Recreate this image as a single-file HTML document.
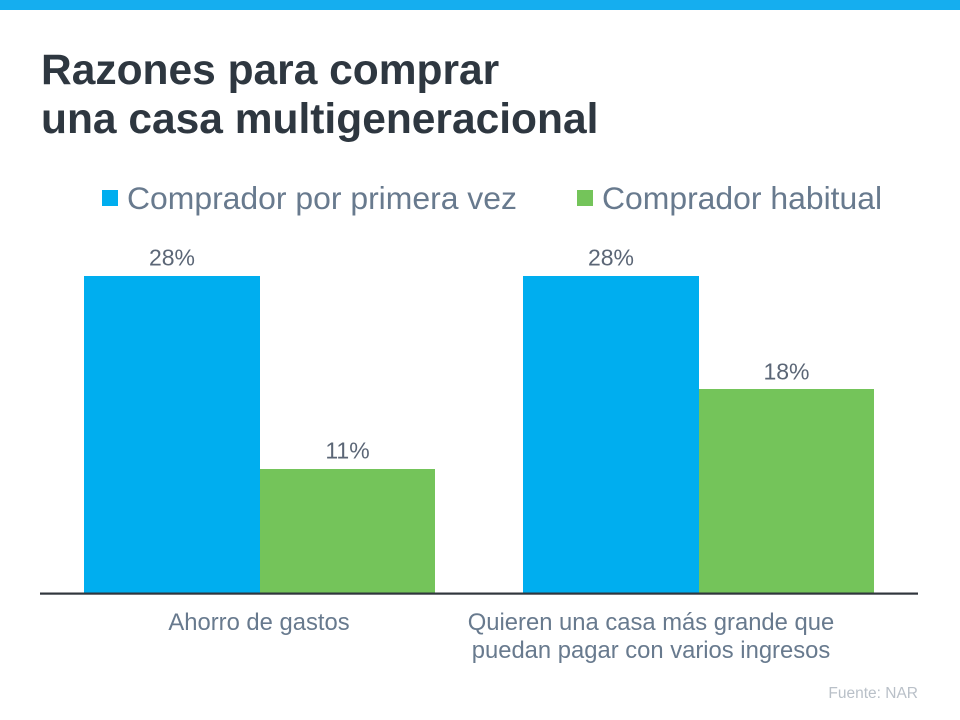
<!DOCTYPE html>
<html>
<head>
<meta charset="utf-8">
<style>
html,body{margin:0;padding:0;background:#fff;}
body{width:960px;height:720px;overflow:hidden;}
svg{display:block;}
text{font-family:"Liberation Sans", Arial, sans-serif;}
</style>
</head>
<body>
<svg width="960" height="720" viewBox="0 0 960 720" xmlns="http://www.w3.org/2000/svg">
  <rect x="0" y="0" width="960" height="720" fill="#ffffff"/>
  <rect x="0" y="0" width="960" height="10" fill="#15AEEF"/>

  <!-- Title -->
  <text x="41" y="84" font-size="42.5" font-weight="bold" fill="#2E3740">Razones para comprar</text>
  <text x="41" y="133" font-size="42.5" font-weight="bold" fill="#2E3740">una casa multigeneracional</text>

  <!-- Legend -->
  <rect x="102" y="190" width="16" height="16" fill="#00AEEF"/>
  <text x="127" y="209" font-size="31.9" fill="#687A8E">Comprador por primera vez</text>
  <rect x="577" y="190" width="16" height="16" fill="#74C45A"/>
  <text x="602" y="209" font-size="31.9" fill="#687A8E">Comprador habitual</text>

  <!-- Bars -->
  <rect x="84" y="276" width="176" height="317" fill="#00AEEF"/>
  <rect x="260" y="469" width="175" height="124" fill="#74C45A"/>
  <rect x="523" y="276" width="176" height="317" fill="#00AEEF"/>
  <rect x="699" y="389" width="175" height="204" fill="#74C45A"/>

  <!-- Axis -->
  <rect x="40" y="592.5" width="878" height="2.2" fill="#30363D"/>

  <!-- Data labels -->
  <g font-size="23" fill="#5B6676" text-anchor="middle">
    <text x="172" y="265.5">28%</text>
    <text x="347.5" y="458.5">11%</text>
    <text x="611" y="265.5">28%</text>
    <text x="786.5" y="379.5">18%</text>
  </g>

  <!-- Category labels -->
  <g font-size="23.8" fill="#687A8E" text-anchor="middle">
    <text x="259" y="630">Ahorro de gastos</text>
    <text x="651" y="630">Quieren una casa más grande que</text>
    <text x="651" y="658">puedan pagar con varios ingresos</text>
  </g>

  <!-- Source -->
  <text x="918" y="698" font-size="15.5" fill="#B9C0C8" text-anchor="end">Fuente: NAR</text>
</svg>
</body>
</html>
